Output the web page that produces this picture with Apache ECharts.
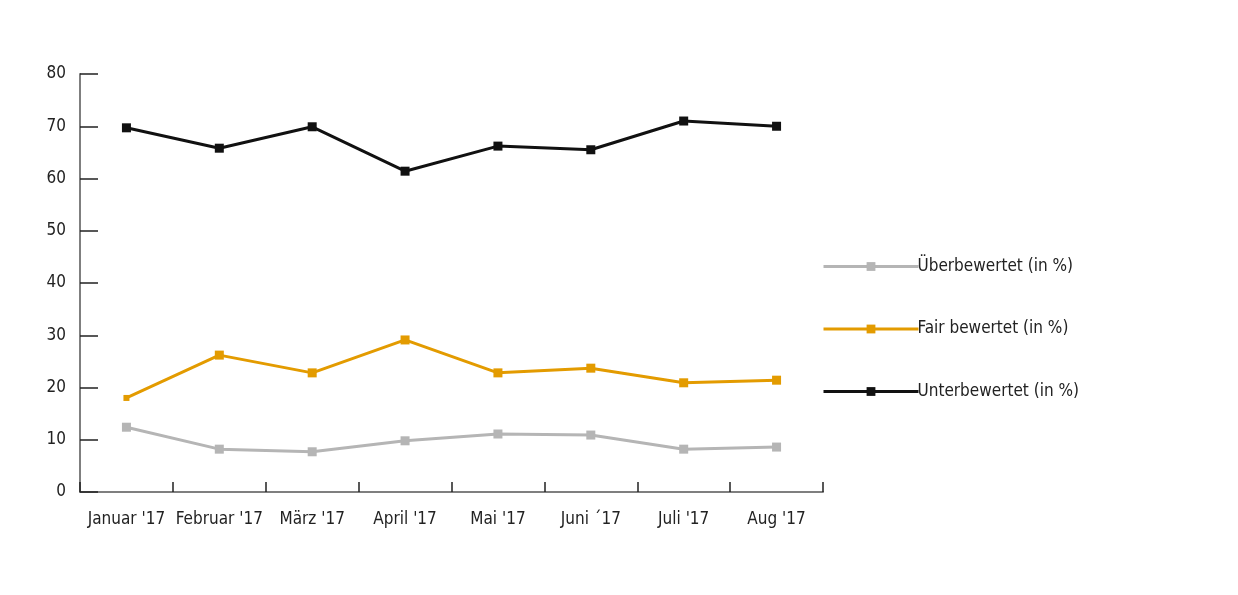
<!DOCTYPE html>
<html>
<head>
<meta charset="utf-8">
<script src="https://cdn.jsdelivr.net/npm/echarts@6/dist/echarts.min.js"></script>
<style>
html,body{margin:0;padding:0;background:#fff;}
#chart{width:1238px;height:595px;}
</style>
</head>
<body>
<div id="chart"></div>
<script>
const categories = ["Januar '17", "Februar '17", "März '17", "April '17", "Mai '17", "Juni ´17", "Juli '17", "Aug '17"];
const seriesNames = ["Überbewertet (in %)", "Fair bewertet (in %)", "Unterbewertet (in %)"];
const ueberbewertet = [12.4, 8.2, 7.7, 9.8, 11.1, 10.9, 8.2, 8.6];
const fairBewertet = [18.0, 26.2, 22.8, 29.1, 22.8, 23.7, 20.9, 21.4];
const unterbewertet = [69.7, 65.8, 69.9, 61.4, 66.2, 65.5, 71.0, 70.0];
const yTicks = [0, 10, 20, 30, 40, 50, 60, 70, 80];

const FONT = "'Liberation Sans Narrow', 'DejaVu Sans Condensed', 'Roboto', sans-serif";
const colors = ['#b5b5b5', '#e39b00', '#111111'];
const widths = [3, 3, 3];

const chart = echarts.init(document.getElementById('chart'), null, {renderer: 'canvas'});

function mk(name, values, i) {
  return {
    name: name,
    type: 'line',
    data: values.map((v, j) => (i === 1 && j === 0) ? {value: v, symbolSize: 6} : v),
    symbol: 'rect',
    symbolSize: 9,
    showAllSymbol: true,
    lineStyle: {color: colors[i], width: widths[i]},
    itemStyle: {color: colors[i]},
    emphasis: {disabled: true},
    animation: false
  };
}

chart.setOption({
  animation: false,
  color: colors,
  grid: {left: 80, right: 415, top: 74, bottom: 103, containLabel: false},
  legend: {
    orient: 'vertical',
    left: 822,
    top: 258,
    padding: 0,
    itemWidth: 95,
    itemHeight: 11,
    itemGap: 45.5,
    data: seriesNames,
    lineStyle: {width: 3},
    textStyle: {fontFamily: FONT, fontSize: 17, color: '#222', lineHeight: 17, padding: [0, 0, 0, -6]},
    selectedMode: false
  },
  xAxis: {
    type: 'category',
    data: categories,
    boundaryGap: true,
    axisLine: {lineStyle: {color: '#7f7f7f', width: 2}},
    axisTick: {show: true, inside: true, length: 10, lineStyle: {color: '#222', width: 1.5}, alignWithLabel: false, interval: 0},
    axisLabel: {fontFamily: FONT, fontSize: 17, color: '#222', margin: 19, interval: 0}
  },
  yAxis: {
    type: 'value',
    min: 0, max: 80, interval: 10,
    axisLine: {show: true, lineStyle: {color: '#7f7f7f', width: 2}},
    axisTick: {show: true, inside: true, length: 18, lineStyle: {color: '#222', width: 1.5}},
    splitLine: {show: false},
    axisLabel: {fontFamily: FONT, fontSize: 17, color: '#222', margin: 14,
      formatter: v => yTicks.includes(v) ? String(v) : ''}
  },
  series: [
    mk(seriesNames[0], ueberbewertet, 0),
    mk(seriesNames[1], fairBewertet, 1),
    mk(seriesNames[2], unterbewertet, 2)
  ]
});
</script>
</body>
</html>
